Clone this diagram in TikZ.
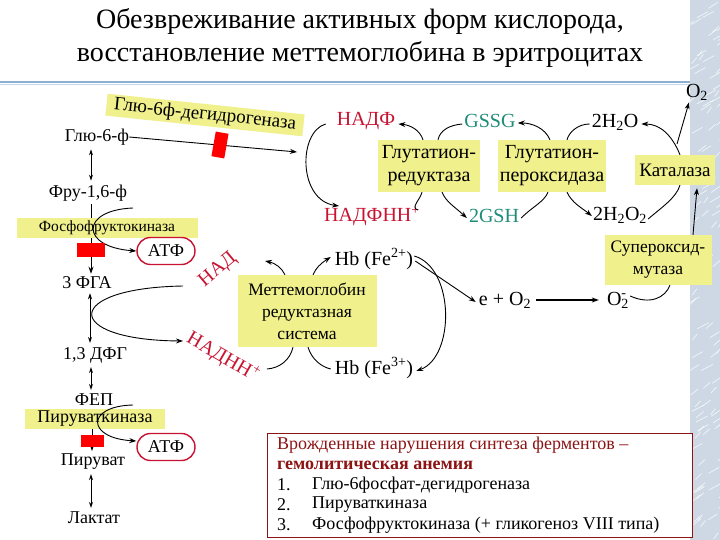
\documentclass[tikz,border=0pt]{standalone}
\usepackage{fontspec}
\setmainfont{Liberation Serif}
\usetikzlibrary{arrows.meta,shapes.misc,calc}
\definecolor{ylw}{RGB}{240,240,140}
\definecolor{crim}{RGB}{200,20,50}
\definecolor{tealg}{RGB}{30,140,120}
\definecolor{dred}{RGB}{140,20,20}
\definecolor{tline}{RGB}{140,175,210}
\definecolor{frost}{RGB}{205,216,228}
\tikzset{
  lbl/.style={inner sep=0pt, font=\fontsize{20}{22}\selectfont},
  metab/.style={inner sep=0pt, font=\fontsize{18}{20}\selectfont},
  enz/.style={fill=ylw, inner sep=2pt, align=center, font=\fontsize{17}{21}\selectfont},
  atfbox/.style={draw=crim, line width=1.4pt, rounded rectangle, minimum width=62pt, minimum height=27pt, inner sep=2pt, font=\fontsize{18}{20}\selectfont},
  redblk/.style={fill=red, inner sep=0pt},
  arr/.style={-{Stealth[length=7pt,width=5pt]}, line width=0.9pt},
  dbl/.style={{Stealth[length=6pt,width=4pt]}-{Stealth[length=6pt,width=4pt]}, line width=0.8pt},
  ln/.style={line width=0.9pt},
  boxtxt/.style={inner sep=0pt, anchor=west, font=\fontsize{18}{20}\selectfont}
}
\begin{document}
\begin{tikzpicture}[x=1pt,y=-1pt]
\useasboundingbox (0,0) rectangle (720,540);
\fill[white] (0,0) rectangle (720,540);
% frost texture on the right
\fill[frost] (690,0) rectangle (720,540);
\pgfmathsetseed{7}
\foreach \i in {1,...,110}{
  \pgfmathsetmacro\xa{688+32*rnd}
  \pgfmathsetmacro\ya{540*rnd}
  \pgfmathsetmacro\dx{4+8*rnd}
  \draw[white, opacity=0.75, line width=0.7pt] (\xa,\ya) -- ++(\dx,-6);
}
% title
\node[font=\fontsize{28}{33}\selectfont, align=center, inner sep=0pt] (title) at (360,38)
  {Обезвреживание активных форм кислорода,\\восстановление меттемоглобина в эритроцитах};
\draw[tline, line width=2.2pt] (0,82) -- (690,82);
\draw[tline!50, line width=1pt] (0,84.5) -- (690,84.5);

% left column nodes
\node[metab] (g6f) at (97,137) {Глю-6-ф};
\node[metab] (fru) at (88,193) {Фру-1,6-ф};
\node[metab] (pga) at (87,283) {3 ФГА};
\node[metab] (dpg) at (95,355) {1,3 ДФГ};
\node[metab] (fep) at (94,400) {ФЕП};
\node[metab] (pyr) at (93,462) {Пируват};
\node[metab] (lac) at (94,518) {Лактат};

% vertical connectors
\draw[dbl] ([yshift=-4pt]g6f.south -| 91,0) -- ([yshift=4pt]fru.north -| 91,0);
\draw[arr] ([yshift=-3pt]fru.south -| 91,0) -- ([yshift=3pt]pga.north -| 91,0);
\draw[dbl] ([yshift=-4pt]pga.south -| 90,0) -- ([yshift=4pt]dpg.north -| 90,0);
\draw[dbl] ([yshift=-4pt]dpg.south -| 91,0) -- ([yshift=4pt]fep.north -| 91,0);
\draw[arr] ([yshift=-3pt]fep.south -| 92,0) -- ([yshift=3pt]pyr.north -| 92,0);
\draw[dbl] ([yshift=-4pt]pyr.south -| 91,0) -- ([yshift=4pt]lac.north -| 91,0);

% enzyme labels left
\node[enz, minimum width=181pt, minimum height=19pt, font=\fontsize{15.5}{18}\selectfont] (pfk) at (107,228) {Фосфофруктокиназа};
\node[enz, minimum width=140pt, minimum height=18pt, font=\fontsize{18}{20}\selectfont] (pk) at (95,419) {Пируваткиназа};
\node[enz, rotate=-6, minimum width=198pt, minimum height=22pt, font=\fontsize{19}{21}\selectfont] (g6pd) at (205,115) {Глю-6ф-дегидрогеназа};

\node[atfbox] (atf1) at (166,251) {АТФ};
\node[atfbox] (atf2) at (166,447) {АТФ};

% ATP curves
\coordinate (pfkc) at (133,208);
\coordinate (pkc) at (133,405);
\draw[arr] (pfkc) .. controls (80,210) and (80,247) .. (atf1.west);
\draw[arr] (pkc) .. controls (86,406) and (86,438) .. ([yshift=6pt]atf2.west);

% red blocks
\node[redblk, minimum width=28pt, minimum height=14pt] (rb2) at (91,250) {};
\node[redblk, minimum width=23pt, minimum height=12pt] (rb3) at (92,441) {};

% glucose-6-P to NADP cycle
\coordinate (nadpin) at (297,152);
\draw[arr] (g6f.east) -- (nadpin);
\node[redblk, rotate=-10, minimum width=13pt, minimum height=25pt] (rb1) at (220,145) {};

% NAD / NADH
\node[lbl, text=crim, rotate=40] (nad) at (218,270) {НАД};
\node[lbl, text=crim, rotate=-30] (nadh) at (223,357) {НАДНН\textsuperscript{+}};
\coordinate (nadc) at (183,286);
\draw[arr] (nadc) .. controls (62,288) and (62,340) .. (183,341);

% middle
\node[lbl, text=crim] (nadp) at (366,121) {НАДФ};
\node[lbl, text=crim] (nadph) at (372,216) {НАДФНН\textsuperscript{+}};
\node[lbl, text=tealg] (gssg) at (490,121) {GSSG};
\node[lbl, text=tealg] (gsh) at (494,216) {2GSH};
\node[lbl] (h2o) at (615,122) {2H\textsubscript{2}O};
\node[lbl] (h2o2) at (620,215) {2H\textsubscript{2}O\textsubscript{2}};
\node[lbl] (o2t) at (697,92) {O\textsubscript{2}};
\node[lbl] (hb2) at (374,259) {Hb (Fe\textsuperscript{2+})};
\node[lbl] (hb3) at (374,368) {Hb (Fe\textsuperscript{3+})};
\node[lbl] (eo2) at (505,300) {e + O\textsubscript{2}};
\node[lbl] (o2m) at (618,300) {O\rlap{\textsuperscript{-}}\textsubscript{2}};

\node[enz, minimum width=102pt, minimum height=52pt, font=\fontsize{20}{23}\selectfont] (grd) at (429,166) {Глутатион-\\редуктаза};
\node[enz, minimum width=105pt, minimum height=52pt, font=\fontsize{20}{23}\selectfont] (gpx) at (552,166) {Глутатион-\\пероксидаза};
\node[enz, minimum width=80pt, minimum height=30pt, font=\fontsize{19}{21}\selectfont] (cat) at (675,170) {Каталаза};
\node[enz, minimum width=107pt, minimum height=50pt, font=\fontsize{17.5}{22}\selectfont] (sod) at (658,260) {Супероксид-\\мутаза};
\node[enz, minimum width=139pt, minimum height=72pt, font=\fontsize{17.5}{22}\selectfont] (met) at (307,311) {Меттемоглобин\\редуктазная\\система};

% NADP cycle
\coordinate (nadphtip) at (339,206);
\draw[arr] ([xshift=-11pt,yshift=-3pt]nadp.west) .. controls (298,132) and (298,200) .. (nadphtip);
\draw[arr] ([xshift=-6pt]grd.north) .. controls (420,130) and (410,125) .. ([xshift=3pt,yshift=-3pt]nadp.east);
\draw[ln] ([xshift=-2pt,yshift=-3pt]gssg.west) .. controls (450,125) and (440,130) .. ([xshift=9pt]grd.north);
\draw[ln] ([xshift=-2pt,yshift=6pt]nadph.east) .. controls (410,208) and (420,200) .. ([xshift=-7pt]grd.south);
\draw[arr] ([xshift=13pt]grd.south) .. controls (446,202) and (455,207) .. ([xshift=-2pt,yshift=-2pt]gsh.west);
\draw[ln] ([xshift=2pt,yshift=-2pt]gsh.east) .. controls (532,207) and (544,202) .. ([xshift=-4pt]gpx.south);
\draw[arr] ([xshift=-2pt]gpx.north) .. controls (545,128) and (532,123) .. ([xshift=2pt,yshift=-2pt]gssg.east);
\draw[ln] ([xshift=-2pt,yshift=-2pt]h2o.west) .. controls (578,124) and (569,132) .. ([xshift=15pt]gpx.north);
\draw[arr] ([xshift=5pt]cat.north) .. controls (672,135) and (660,124) .. ([xshift=3pt,yshift=-2pt]h2o.east);
\draw[arr] ([xshift=15pt]gpx.south) .. controls (572,203) and (582,208) .. ([xshift=-1pt,yshift=-1pt]h2o2.west);
\draw[ln] ([xshift=1pt,yshift=-4pt]h2o2.east) .. controls (662,207) and (676,198) .. ([xshift=5pt]cat.south);
\coordinate (catbr) at (677,144);
\draw[arr] (catbr) -- ([xshift=-8pt,yshift=-2pt]o2t.south);
\draw[arr] ([xshift=35pt]sod.north) -- ([xshift=22pt,yshift=-3pt]cat.south);
\draw[ln] ([xshift=1pt,yshift=4pt]o2m.east) .. controls (650,305) and (665,298) .. ([xshift=12pt]sod.south);
\draw[arr, line width=1.4pt] ([xshift=5pt]eo2.east) -- ([xshift=-8pt]o2m.west);
\draw[arr] ([xshift=2pt,yshift=-2pt]hb2.east) -- ([xshift=-3pt,yshift=-2pt]eo2.west);
\draw[arr] ([xshift=1pt,yshift=3pt]hb2.east) .. controls (455,268) and (455,357) .. ([xshift=3pt,yshift=-3pt]hb3.east);

% methemoglobin reductase
\coordinate (nadtip) at (265,261);
\coordinate (nadhend) at (267,369);
\draw[arr] ([xshift=-22pt]met.north) .. controls (282,268) and (275,263) .. (nadtip);
\draw[arr] ([xshift=6pt]met.north) .. controls (316,268) and (320,264) .. ([xshift=-4pt,yshift=2pt]hb2.west);
\draw[ln] ([xshift=-14pt]met.south) .. controls (290,360) and (280,368) .. (nadhend);
\draw[ln] ([xshift=1pt]met.south) .. controls (312,360) and (322,367) .. ([xshift=-4pt,yshift=-1pt]hb3.west);

% info box
\node[draw=dred, line width=1pt, fill=white, minimum width=425pt, minimum height=104pt, inner sep=0pt] (info) at (479.5,485) {};
\node[boxtxt, text=dred] (i0) at (277,445) {Врожденные нарушения синтеза ферментов –};
\node[boxtxt, text=dred, font=\fontsize{18}{20}\selectfont\bfseries] (i1) at (277,465) {гемолитическая анемия};
\node[boxtxt] (n1) at (277,485) {1.};
\node[boxtxt] (t1) at (312,485) {Глю-6фосфат-дегидрогеназа};
\node[boxtxt] (n2) at (277,505) {2.};
\node[boxtxt] (t2) at (312,505) {Пируваткиназа};
\node[boxtxt] (n3) at (277,525) {3.};
\node[boxtxt] (t3) at (312,525) {Фосфофруктокиназа (+ гликогеноз VIII типа)};
\end{tikzpicture}
\end{document}
